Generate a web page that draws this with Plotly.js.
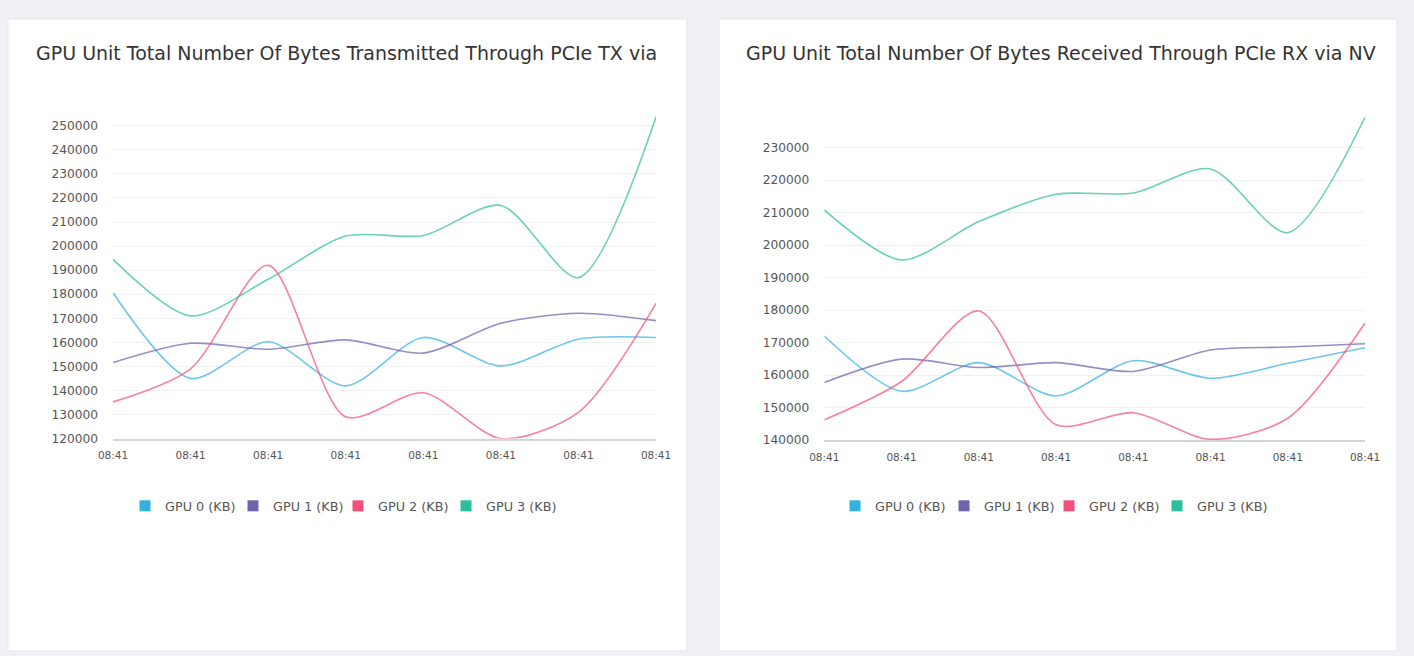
<!DOCTYPE html>
<html>
<head>
<meta charset="utf-8">
<script src="https://cdn.plot.ly/plotly-3.0.1.min.js"></script>
<style>
html,body{margin:0;padding:0;background:#f0f1f5;}
#chart{width:1414px;height:656px;}
</style>
</head>
<body>
<div id="chart"></div>
<script>
// ---- data ----
const times = ['08:41','08:41','08:41','08:41','08:41','08:41','08:41','08:41'];
const seriesNames = ['GPU 0 (KB)','GPU 1 (KB)','GPU 2 (KB)','GPU 3 (KB)'];
const seriesColors = ['#33b2df','#6d64ad','#f4507b','#2ebf9a'];

const txTitle = 'GPU Unit Total Number Of Bytes Transmitted Through PCIe TX via';
const txGpu0 = [180600, 145000, 160200, 141900, 162000, 150200, 161300, 162000];
const txGpu1 = [151600, 159600, 157100, 161000, 155500, 167900, 172100, 169000];
const txGpu2 = [135200, 149000, 192000, 129000, 139000, 120000, 130900, 176200];
const txGpu3 = [194500, 171000, 186200, 204200, 204400, 216900, 186900, 253700];
const txTicks = [120000,130000,140000,150000,160000,170000,180000,190000,200000,210000,220000,230000,240000,250000];

const rxTitle = 'GPU Unit Total Number Of Bytes Received Through PCIe RX via NV';
const rxGpu0 = [172000, 155000, 163800, 153600, 164400, 159000, 163600, 168400];
const rxGpu1 = [157700, 164900, 162300, 163800, 161100, 167700, 168600, 169600];
const rxGpu2 = [146200, 158000, 179700, 144700, 148400, 140200, 146700, 176000];
const rxGpu3 = [210800, 195400, 207200, 215600, 216000, 223400, 203800, 239300];
const rxTicks = [140000,150000,160000,170000,180000,190000,200000,210000,220000,230000];

// ---- build ----
const W = 1414, H = 656;
const FONT = 'DejaVu Sans, Open Sans, sans-serif';
const xIdx = times.map((t, i) => i);
const txSeries = [txGpu0, txGpu1, txGpu2, txGpu3];
const rxSeries = [rxGpu0, rxGpu1, rxGpu2, rxGpu3];

function px2x(p) { return p / W; }
function px2y(p) { return (H - p) / H; }

const traces = [];
const legends = {};
let legendCount = 0;
const legendFont = {family: FONT, size: 12.8, color: '#555'};

// legend marker left edges (px) for each chart
const txLegendX = [139, 247, 352, 460];
const rxLegendX = [849, 958, 1063, 1171];

function addChart(series, xa, ya, legendPx) {
  series.forEach((vals, k) => {
    traces.push({
      type: 'scatter', mode: 'lines', x: xIdx, y: vals,
      xaxis: xa, yaxis: ya, name: seriesNames[k], showlegend: false,
      line: {color: seriesColors[k], width: 1.6, shape: 'spline', smoothing: 0.8},
      opacity: 0.72, hoverinfo: 'y'
    });
  });
  series.forEach((vals, k) => {
    legendCount++;
    const id = legendCount === 1 ? 'legend' : 'legend' + legendCount;
    legends[id] = {
      orientation: 'h', x: px2x(legendPx[k] - 14), y: px2y(506),
      xanchor: 'left', yanchor: 'middle',
      font: legendFont, bgcolor: 'rgba(0,0,0,0)', itemwidth: 30
    };
    traces.push({
      type: 'scatter', mode: 'markers', x: [null], y: [null],
      xaxis: xa, yaxis: ya, name: seriesNames[k], legend: id,
      marker: {color: seriesColors[k], symbol: 'square', size: 11}
    });
  });
}
addChart(txSeries, 'x', 'y', txLegendX);
addChart(rxSeries, 'x2', 'y2', rxLegendX);

const gridColor = '#eff1f3';

function xAxis(d0, d1, anchor) {
  return {
    domain: [px2x(d0), px2x(d1)], anchor: anchor, range: [0, times.length - 1],
    tickmode: 'array', tickvals: xIdx, ticktext: times,
    showgrid: false, zeroline: false, showline: true, linecolor: '#d4d5db', linewidth: 2,
    ticks: '', tickfont: {family: FONT, size: 10.5, color: '#555'}, ticklabelstandoff: 6, fixedrange: true
  };
}
function yAxis(bottomPx, perTick, minV, maxV, ticks, anchor) {
  const topPx = bottomPx - (maxV - minV) / 10000 * perTick;
  return {
    domain: [px2y(bottomPx), px2y(topPx)], anchor: anchor, range: [minV, maxV],
    tickmode: 'array', tickvals: ticks, ticktext: ticks.map(String),
    showgrid: true, gridcolor: gridColor, gridwidth: 1, zeroline: false, showline: false,
    ticks: '', tickfont: {family: FONT, size: 12.2, color: '#555'}, ticklabelstandoff: 14, fixedrange: true
  };
}

const layout = Object.assign({
  width: W, height: H,
  margin: {l: 0, r: 0, t: 0, b: 0},
  paper_bgcolor: '#f0f1f5', plot_bgcolor: 'rgba(0,0,0,0)',
  showlegend: true,
  xaxis: xAxis(113, 656, 'y'),
  yaxis: yAxis(438.5, 24.05, 120000, 255000, txTicks, 'x'),
  xaxis2: xAxis(824.3, 1365, 'y2'),
  yaxis2: yAxis(440, 32.5, 140000, 240000, rxTicks, 'x2'),
  shapes: [
    {type: 'rect', xref: 'paper', yref: 'paper', layer: 'below',
     x0: px2x(8), x1: px2x(687), y0: px2y(651), y1: px2y(19),
     fillcolor: '#ffffff', line: {color: '#e4e5ea', width: 1}},
    {type: 'rect', xref: 'paper', yref: 'paper', layer: 'below',
     x0: px2x(719), x1: px2x(1397), y0: px2y(651), y1: px2y(19),
     fillcolor: '#ffffff', line: {color: '#e4e5ea', width: 1}}
  ],
  annotations: [
    {text: txTitle, xref: 'paper', yref: 'paper', x: px2x(34), y: px2y(53),
     xanchor: 'left', yanchor: 'middle', showarrow: false,
     font: {family: FONT, size: 19, color: '#333'}},
    {text: rxTitle, xref: 'paper', yref: 'paper', x: px2x(744), y: px2y(53),
     xanchor: 'left', yanchor: 'middle', showarrow: false,
     font: {family: FONT, size: 19, color: '#333'}}
  ]
}, legends);

Plotly.newPlot('chart', traces, layout, {displayModeBar: false, staticPlot: true});
</script>
</body>
</html>
